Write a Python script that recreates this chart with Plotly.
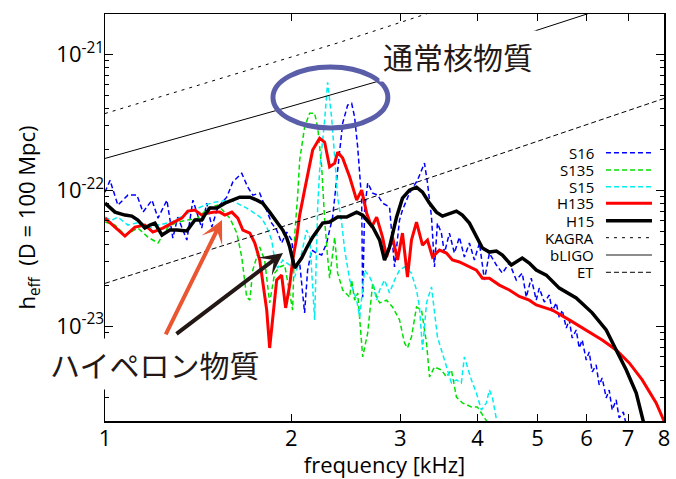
import numpy as np
import plotly.graph_objects as go

UNIT = 1e-22  # h values below are in units of 1e-22

# ---- data (frequency in kHz, h_eff in 1e-22) ----
freq_S16 = [1.000,1.019,1.049,1.089,1.126,1.152,1.191,1.218,1.259,1.287,
            1.311,1.356,1.387,1.433,1.460,1.488,1.522,1.573,1.609,1.663,
            1.701,1.733,1.778,1.825,1.859,1.894,1.929,1.966,2.003,2.025,
            2.063,2.101,2.125,2.157,2.198,2.239,2.281,2.332,2.376,2.421,
            2.466,2.503,2.531,2.560,2.598,2.608,2.627,2.657,2.707,2.757,
            2.808,2.882,2.936,2.991,3.024,3.104,3.197,3.282,3.319,3.369,
            3.406,3.444,3.495,3.535,3.601,3.668,3.737,3.807,3.879,3.952,
            4.026,4.102,4.178,4.288,4.385,4.500,4.618,4.722,4.793,4.882,
            4.974,5.030,5.126,5.221,5.279,5.358,5.419,5.479,5.562,5.623,
            5.686,5.771,5.836,5.902,5.990,6.057,6.125,6.216,6.286,6.357,
            6.452,6.524,6.598,6.696,6.770,6.876,6.953]
h_S16 = [0.967,1.18,0.776,0.919,0.919,0.689,0.844,0.622,0.844,0.444,
         0.633,0.429,0.844,0.526,0.802,0.535,0.750,0.888,1.15,1.33,
         1.05,0.919,0.951,0.713,0.572,0.508,0.408,0.491,0.429,0.272,
         0.291,0.125,0.258,0.362,0.344,0.333,0.408,0.633,1.33,3.11,
         4.22,4.36,3.44,2.07,0.844,0.163,0.713,1.13,0.951,0.919,
         0.802,0.750,0.272,0.602,0.713,0.951,1.18,1.58,1.13,0.633,
         0.272,0.572,0.483,0.344,0.483,0.344,0.451,0.322,0.408,0.306,
         0.408,0.218,0.344,0.281,0.245,0.291,0.218,0.245,0.163,0.225,
         0.155,0.190,0.150,0.169,0.128,0.148,0.1146,0.131,0.0966,0.111,
         0.0816,0.0935,0.0689,0.0789,0.0562,0.0644,0.0459,0.0517,0.0368,0.0415,
         0.0296,0.0338,0.0241,0.0286,0.0211,0.0233,0.0187]

freq_S135 = [1.000,1.038,1.077,1.130,1.173,1.218,1.264,1.311,1.361,1.413,
             1.466,1.522,1.591,1.633,1.663,1.694,1.714,1.733,1.778,1.811,
             1.845,1.880,1.915,1.951,2.010,2.025,2.048,2.063,2.101,2.141,
             2.181,2.206,2.239,2.264,2.289,2.306,2.350,2.376,2.421,2.485,
             2.503,2.531,2.560,2.608,2.657,2.707,2.747,2.778,2.850,2.914,
             2.991,3.047,3.081,3.127,3.186,3.246,3.307,3.344,3.406,3.495,
             3.561,3.628,3.696,3.778,3.908,3.996,4.102,4.178]
h_S135 = [0.582,0.553,0.467,0.526,0.451,0.408,0.535,0.582,0.602,0.622,
          0.738,0.776,0.622,0.483,0.322,0.163,0.155,0.258,0.381,0.306,
          0.148,0.245,0.272,0.281,0.131,0.467,0.919,1.66,2.90,3.68,
          3.68,2.90,1.48,0.602,0.322,0.225,0.451,0.245,0.184,0.163,
          0.218,0.155,0.175,0.0592,0.0889,0.207,0.163,0.148,0.155,0.138,
          0.111,0.0750,0.0689,0.0830,0.138,0.131,0.0750,0.0422,0.0500,0.0475,
          0.0422,0.0475,0.0300,0.0272,0.0254,0.0254,0.0211,0.0188]

freq_S15 = [1.000,1.026,1.049,1.089,1.139,1.182,1.218,1.283,1.361,1.449,
            1.505,1.591,1.633,1.694,1.733,1.791,1.825,1.859,1.880,1.901,
            1.937,1.988,2.025,2.078,2.117,2.141,2.181,2.206,2.222,2.264,
            2.289,2.323,2.350,2.376,2.412,2.439,2.485,2.550,2.579,2.627,
            2.677,2.707,2.747,2.778,2.829,2.882,2.936,2.991,3.047,3.127,
            3.186,3.222,3.258,3.307,3.369,3.406,3.444,3.495,3.561,3.628,
            3.696,3.764,3.807,3.850,3.908,3.981,4.056,4.132,4.178,4.225,
            4.288,4.304]
h_S15 = [0.633,0.602,0.633,0.553,0.582,0.526,0.553,0.582,0.677,0.776,
         0.816,0.844,0.802,0.738,0.689,0.622,0.535,0.429,0.306,0.267,
         0.306,0.281,0.229,0.344,0.508,0.451,0.111,0.750,1.40,3.27,
         6.22,3.44,1.75,0.888,0.572,0.362,0.218,0.155,0.116,0.258,
         0.229,0.207,0.155,0.184,0.218,0.175,0.218,0.258,0.272,0.245,
         0.184,0.138,0.0667,0.148,0.194,0.131,0.0830,0.0667,0.0500,0.0381,
         0.0401,0.0381,0.0592,0.0500,0.0401,0.0321,0.0241,0.0272,0.0338,0.0300,
         0.0214,0.0188]

freq_H135 = [1.000,1.038,1.077,1.118,1.160,1.195,1.240,1.283,1.331,1.361,
             1.397,1.433,1.466,1.505,1.533,1.562,1.603,1.639,1.670,1.714,
             1.746,1.778,1.798,1.825,1.845,1.866,1.894,1.929,1.958,1.988,
             2.010,2.040,2.063,2.101,2.141,2.165,2.222,2.264,2.306,2.350,
             2.376,2.421,2.485,2.550,2.598,2.647,2.697,2.747,2.808,2.850,
             2.914,2.969,3.024,3.081,3.127,3.186,3.258,3.319,3.381,3.470,
             3.561,3.641,3.737,3.835,3.981,4.071,4.178,4.336,4.500,4.670,
             4.846,4.974,5.279,5.623,5.990,6.357,6.696,7.030,7.377,7.770,8.0]
h_H135 = [0.622,0.535,0.459,0.535,0.553,0.491,0.526,0.572,0.622,0.701,
          0.713,0.655,0.677,0.689,0.689,0.655,0.689,0.622,0.508,0.483,
          0.408,0.306,0.218,0.131,0.0689,0.111,0.218,0.237,0.136,0.200,
          0.306,0.444,0.655,1.00,1.58,1.97,2.41,2.25,1.48,1.58,
          1.90,1.72,1.25,0.844,1.00,0.677,0.535,0.633,0.451,0.322,
          0.451,0.306,0.483,0.229,0.429,0.582,0.394,0.429,0.322,0.362,
          0.344,0.306,0.296,0.281,0.258,0.225,0.225,0.200,0.184,0.165,
          0.155,0.143,0.131,0.111,0.0935,0.0789,0.0667,0.0535,0.0401,0.0272,0.0200]

freq_H15 = [1.000,1.038,1.077,1.105,1.130,1.160,1.182,1.204,1.236,1.273,
            1.306,1.356,1.397,1.433,1.449,1.477,1.516,1.562,1.651,1.714,
            1.759,1.798,1.845,1.894,1.937,1.966,1.988,2.025,2.078,2.117,
            2.165,2.247,2.306,2.376,2.457,2.550,2.608,2.707,2.778,2.829,
            2.882,2.958,3.024,3.104,3.186,3.258,3.344,3.431,3.509,3.696,
            3.778,3.879,3.981,4.071,4.178,4.288,4.385,4.534,4.722,4.846,
            4.974,5.163,5.419,5.771,6.125,6.452,6.696,6.953,7.215,7.377,7.43]
h_H15 = [0.802,0.689,0.655,0.644,0.602,0.526,0.553,0.572,0.467,0.508,
         0.508,0.500,0.602,0.602,0.655,0.738,0.738,0.802,0.888,0.888,
         0.844,0.802,0.689,0.582,0.508,0.444,0.381,0.267,0.316,0.375,
         0.451,0.572,0.582,0.633,0.633,0.689,0.655,0.535,0.429,0.306,
         0.381,0.633,0.873,1.00,1.05,0.967,0.802,0.689,0.644,0.701,
         0.655,0.572,0.451,0.375,0.350,0.356,0.333,0.281,0.316,0.291,
         0.258,0.237,0.190,0.161,0.125,0.0935,0.0667,0.0475,0.0321,0.0211,0.0188]

freq_KAGRA = [1.0, 2.39, 3.26, 8.0]
h_KAGRA = [3.66, 12.2, 19.4, 74.6]
freq_bLIGO = [1.0, 1.901, 2.914, 6.06, 8.0]
h_bLIGO = [1.71, 3.88, 6.78, 19.9, 30.2]
freq_ET = [1.0, 2.39, 7.85, 8.0]
h_ET = [0.206, 0.733, 4.59, 4.72]

x_ticks = [1, 2, 3, 4, 5, 6, 7, 8]
y_ticks = [1e-23, 1e-22, 1e-21]
y_ticktext = ["10<sup>-23</sup>", "10<sup>-22</sup>", "10<sup>-21</sup>"]

series = [
    ("S16",   freq_S16,   h_S16,   "#0000ff", 1.5, "5px,3px"),
    ("S135",  freq_S135,  h_S135,  "#00e000", 1.5, "5px,3px"),
    ("S15",   freq_S15,   h_S15,   "#00eeee", 1.5, "5px,3px"),
    ("H135",  freq_H135,  h_H135,  "#ff0000", 3.0, "solid"),
    ("H15",   freq_H15,   h_H15,   "#000000", 3.5, "solid"),
    ("KAGRA", freq_KAGRA, h_KAGRA, "#000000", 1.0, "3px,5px"),
    ("bLIGO", freq_bLIGO, h_bLIGO, "#000000", 1.0, "solid"),
    ("ET",    freq_ET,    h_ET,    "#000000", 1.0, "5px,3px"),
]

FONT = "Open Sans, DejaVu Sans, sans-serif"
CJK = "Noto Sans CJK JP"

fig = go.Figure()
for name, f, h, col, w, dash in series:
    fig.add_trace(go.Scatter(
        x=f, y=np.array(h) * UNIT, mode="lines", name=name,
        line=dict(color=col, width=w, dash=dash), showlegend=False,
        hoverinfo="skip"))

# manual gnuplot-style legend (text on the left, sample on the right)
legend_rows = [0.6592, 0.6167, 0.5757, 0.5349, 0.4921, 0.4504, 0.4079, 0.3654]
shapes = []
annotations = []
for (name, f, h, col, w, dash), yy in zip(series, legend_rows):
    lcol = "#666666" if name == "bLIGO" else col
    lw = 1.6 if name == "bLIGO" else w
    shapes.append(dict(type="line", xref="paper", yref="paper",
                       x0=0.8962, x1=0.9785, y0=yy, y1=yy,
                       line=dict(color=lcol, width=lw, dash=dash)))
    annotations.append(dict(text=name, xref="paper", yref="paper",
                            x=0.8766, y=yy, xanchor="right", yanchor="middle",
                            showarrow=False, borderpad=0,
                            font=dict(size=15, family=FONT, color="black")))

# ellipse highlighting normal nuclear matter peak
shapes.append(dict(type="circle", xref="paper", yref="paper",
                   x0=0.3005, x1=0.506, y0=0.720, y1=0.870,
                   line=dict(color="#5a5ea8", width=5)))

# arrows
annotations.append(dict(x=0.2093, y=0.4939, xref="paper", yref="paper",
                        ax=-57, ay=116, axref="pixel", ayref="pixel",
                        text="", showarrow=True, arrowhead=3, arrowsize=0.95,
                        arrowwidth=4, arrowcolor="#ea5532"))
annotations.append(dict(x=0.3184, y=0.4128, xref="paper", yref="paper",
                        ax=-108, ay=82, axref="pixel", ayref="pixel",
                        text="", showarrow=True, arrowhead=3, arrowsize=0.95,
                        arrowwidth=4, arrowcolor="#231815"))

# Japanese labels
annotations.append(dict(text="通常核物質", xref="paper", yref="paper",
                        x=0.6315, y=0.8968, xanchor="center", yanchor="middle",
                        showarrow=False, bgcolor="white", borderpad=3,
                        font=dict(size=30, family=CJK, color="#231815")))
annotations.append(dict(text="ハイペロン物質", xref="paper", yref="paper",
                        x=0.0877, y=0.140, xanchor="center", yanchor="middle",
                        showarrow=False, bgcolor="white", borderpad=3,
                        font=dict(size=30, family=CJK, color="#231815")))

minor_y = [k * 10.0 ** n for n in range(-24, -20) for k in range(2, 10)]

fig.update_layout(
    width=676, height=479,
    margin=dict(l=105, r=12, t=14, b=58, autoexpand=False),
    paper_bgcolor="white", plot_bgcolor="white",
    font=dict(family=FONT, size=22, color="black"),
    shapes=shapes, annotations=annotations,
    xaxis=dict(type="log", range=[0, np.log10(8)], automargin=False,
               tickmode="array", tickvals=x_ticks, ticktext=[str(t) for t in x_ticks],
               ticks="inside", ticklen=7, tickwidth=1, tickcolor="black",
               mirror="allticks", showline=True, linecolor="black", linewidth=1.5,
               showgrid=False, zeroline=False, tickfont=dict(size=22),
               ticklabelstandoff=-3,
               title=dict(text="frequency [kHz]", font=dict(size=22), standoff=12)),
    yaxis=dict(type="log", range=[-23.699, -20.704], automargin=False,
               tickmode="array", tickvals=y_ticks, ticktext=y_ticktext,
               ticks="inside", ticklen=8, tickwidth=1, tickcolor="black",
               minor=dict(tickvals=minor_y, ticks="inside", ticklen=4,
                          tickcolor="black", showgrid=False),
               mirror="allticks", showline=True, linecolor="black", linewidth=1.5,
               showgrid=False, zeroline=False, tickfont=dict(size=22),
               ticklabelstandoff=-5,
               title=dict(text="h<sub>eff</sub>  (D = 100 Mpc)", font=dict(size=22), standoff=14)),
)

fig.write_html("out.html",
               config={"displayModeBar": False, "staticPlot": True},
               post_script="document.body.style.margin='0';document.body.style.padding='0';")
